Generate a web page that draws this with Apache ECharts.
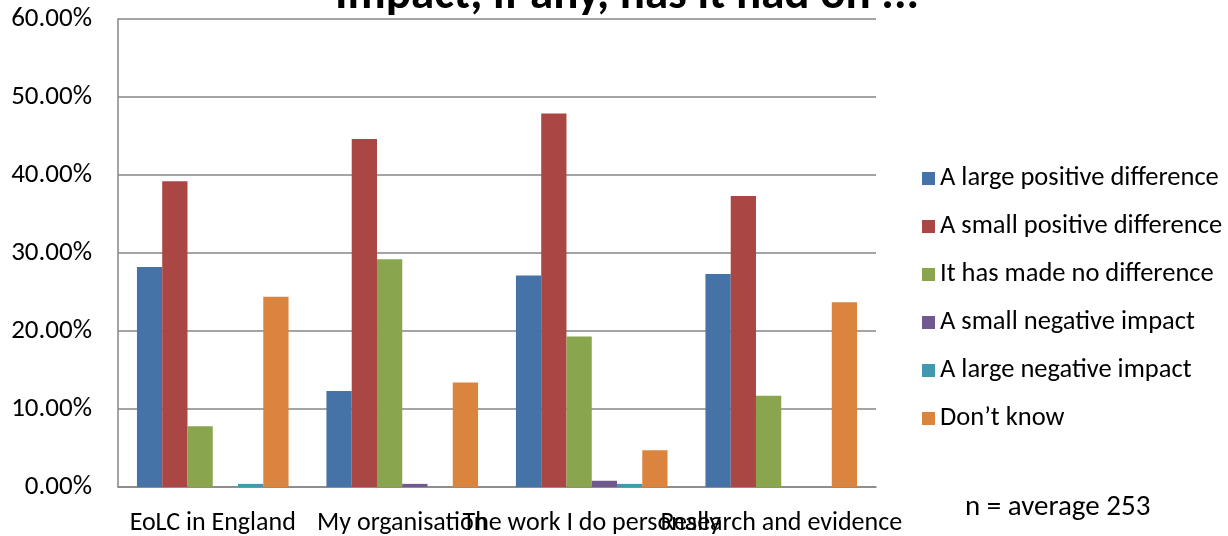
<!DOCTYPE html>
<html>
<head>
<meta charset="utf-8">
<script src="https://cdn.jsdelivr.net/npm/echarts@6/dist/echarts.min.js"></script>
<style>
  html, body { margin: 0; padding: 0; background: #fff; }
  #chart { width: 1228px; height: 536px; }
</style>
</head>
<body>
<div id="chart"></div>
<script>
// 类别与数据（从图中估读，单位 %）
const categories = ['EoLC in England', 'My organisation', 'The work I do personally', 'Research and evidence'];
const seriesNames = [
    'A large positive difference',
    'A small positive difference',
    'It has made no difference',
    'A small negative impact',
    'A large negative impact',
    'Don\u2019t know'
];
const largePositive = [28.2, 12.3, 27.1, 27.3];
const smallPositive = [39.2, 44.6, 47.9, 37.3];
const noDifference = [7.8, 29.2, 19.3, 11.7];
const smallNegative = [0, 0.4, 0.8, 0];
const largeNegative = [0.4, 0, 0.4, 0];
const dontKnow = [24.4, 13.4, 4.7, 23.7];
const yTicks = [0, 10, 20, 30, 40, 50, 60];

const colors = ['#4572A7', '#AA4643', '#89A54E', '#71588F', '#4198AF', '#DB843D'];
const allValues = [largePositive, smallPositive, noDifference, smallNegative, largeNegative, dontKnow];

const FONT = 'Carlito, Lato, "Open Sans", sans-serif';

const chart = echarts.init(document.getElementById('chart'), null, { renderer: 'canvas' });

const option = {
    animation: false,
    textStyle: { fontFamily: FONT },
    title: {
        text: 'Impact, if any, has it had on ...',
        left: 622,
        textAlign: 'center',
        top: -32,
        textStyle: { fontSize: 47, fontWeight: 'bold', color: '#000', fontFamily: FONT }
    },
    legend: {
        orient: 'vertical',
        left: 917,
        top: 160,
        itemWidth: 13,
        itemHeight: 13,
        itemGap: 21,
        icon: 'rect',
        data: seriesNames,
        textStyle: { fontSize: 26.5, color: '#000', fontFamily: FONT, padding: [0, 0, 0, 0] }
    },
    graphic: [{
        type: 'text',
        left: 965,
        top: 493,
        style: { text: 'n = average 253', fontSize: 29, fill: '#000', fontFamily: FONT }
    }],
    grid: { left: 118, right: 352, top: 19, bottom: 47 },
    xAxis: {
        type: 'category',
        data: categories,
        axisLine: { lineStyle: { color: '#868686', width: 1.5 } },
        axisTick: { show: false },
        axisLabel: {
            interval: 0,
            hideOverlap: false,
            fontSize: 26,
            color: '#000',
            margin: 23,
            fontFamily: FONT
        }
    },
    yAxis: {
        type: 'value',
        min: yTicks[0],
        max: yTicks[yTicks.length - 1],
        interval: 10,
        axisLine: { show: true, lineStyle: { color: '#868686', width: 1.5 } },
        axisTick: { show: false },
        splitLine: { lineStyle: { color: '#868686', width: 1.5 } },
        axisLabel: {
            fontSize: 27,
            color: '#000',
            margin: 26,
            fontFamily: FONT,
            formatter: v => v.toFixed(2) + '%'
        }
    },
    series: seriesNames.map((name, i) => ({
        name: name,
        type: 'bar',
        data: allValues[i],
        itemStyle: { color: colors[i] },
        barGap: '0%',
        barCategoryGap: '20%'
    }))
};

chart.setOption(option);
</script>
</body>
</html>
